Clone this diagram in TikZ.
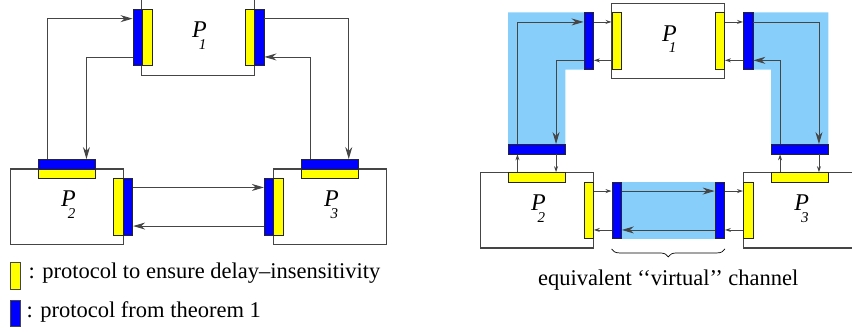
\documentclass[tikz,border=0pt]{standalone}
\usepackage{fontspec}
\setmainfont{Liberation Serif}
\usepackage{xcolor}
\usepackage{tikz}
\usetikzlibrary{positioning, arrows.meta, decorations.pathreplacing, backgrounds}
\definecolor{protyellow}{HTML}{FFFF00}
\definecolor{protblue}{HTML}{0000FF}
\definecolor{chanblue}{HTML}{87CEFA}
\definecolor{linegray}{HTML}{454545}
\newcommand{\procname}[1]{\fontsize{24}{24}\selectfont\itshape P\kern-8pt\raisebox{-12pt}{\fontsize{15}{15}\selectfont #1}}

\tikzset{
  procbox/.style={draw=linegray, line width=1.1pt, inner sep=0pt,
                  minimum width=113pt, minimum height=75.4pt},
  ybar/.style={fill=protyellow, draw=black!85, line width=0.8pt, inner sep=0pt},
  bbar/.style={fill=protblue, draw=black!85, line width=0.8pt, inner sep=0pt},
  upright/.style={minimum width=9.5pt, minimum height=56.5pt},
  flat/.style={minimum width=56.5pt, minimum height=9.5pt},
  wire/.style={draw=linegray, line width=0.9pt},
  bigtip/.style={wire, -{Stealth[length=12pt, width=7pt]}},
  smalltip/.style={wire, -{Stealth[length=6pt, width=4pt]}},
  plabel/.style={anchor=base west, xshift=-6pt, inner sep=0pt},
  keytext/.style={anchor=base west, inner sep=0pt, font=\fontsize{22.5}{27}\selectfont},
}

\begin{document}
\begin{tikzpicture}[x=1pt, y=-1pt]
  \useasboundingbox (0,0) rectangle (852,332);

  % left: the three processes with their protocols
  \node[procbox] (p1) at (198,37.5) {};
  \node[procbox] (p2) at (67,206.7) {};
  \node[procbox] (p3) at (329.8,206.7) {};
  \node[plabel] at (p1.center) {\procname{1}};
  \node[plabel] at (p2.center) {\procname{2}};
  \node[plabel] at (p3.center) {\procname{3}};

  \node[bbar, upright] (b1l) at (137.7,37.3) {};
  \node[ybar, upright] (y1l) at (147.2,37.3) {};
  \node[ybar, upright] (y1r) at (249.8,37.3) {};
  \node[bbar, upright] (b1r) at (259.3,37.3) {};
  \node[bbar, flat] (b2t) at (66.8,164.2) {};
  \node[ybar, flat] (y2t) at (66.8,173.7) {};
  \node[ybar, upright] (y2r) at (118.5,206.7) {};
  \node[bbar, upright] (b2r) at (128,206.7) {};
  \node[bbar, flat] (b3t) at (329.8,164.2) {};
  \node[ybar, flat] (y3t) at (329.8,173.7) {};
  \node[bbar, upright] (b3l) at (269,206.7) {};
  \node[ybar, upright] (y3l) at (278.3,206.7) {};

  \draw[bigtip] ([xshift=9pt]b2t.north west) |- ([yshift=-10pt]b1l.north west);
  \draw[bigtip] ([yshift=9pt]b1l.south west) -| ([xshift=-9pt]b2t.north east);
  \draw[bigtip] ([yshift=-10pt]b1r.north east) -| ([xshift=-9.7pt]b3t.north east);
  \draw[bigtip] ([xshift=9.3pt]b3t.north west) |- ([yshift=9pt]b1r.south east);
  \draw[bigtip] ([yshift=-9.4pt]b2r.north east) -- ([yshift=-9.4pt]b3l.north west);
  \draw[bigtip] ([yshift=9.3pt]b3l.south west) -- ([yshift=9.3pt]b2r.south east);

  % right: same ring, channels seen as virtual
  \node[procbox] (q1) at (668,41) {};
  \node[procbox] (q2) at (536.8,210.3) {};
  \node[procbox] (q3) at (800.2,210.3) {};
  \node[plabel] at (q1.center) {\procname{1}};
  \node[plabel] at (q2.center) {\procname{2}};
  \node[plabel] at (q3.center) {\procname{3}};

  \node[bbar, upright] (rb1l) at (588.7,41) {};
  \node[ybar, upright] (ry1l) at (616.7,41) {};
  \node[ybar, upright] (ry1r) at (719.8,41) {};
  \node[bbar, upright] (rb1r) at (748.2,41) {};
  \node[bbar, flat] (rb2t) at (536.7,149.2) {};
  \node[ybar, flat] (ry2t) at (536.7,177.3) {};
  \node[ybar, upright] (ry2r) at (588.7,210.3) {};
  \node[bbar, upright] (rb2r) at (616.7,210.3) {};
  \node[bbar, upright] (rb3l) at (719.8,210.3) {};
  \node[ybar, upright] (ry3l) at (748.2,210.3) {};
  \node[bbar, flat] (rb3t) at (799.7,149.2) {};
  \node[ybar, flat] (ry3t) at (799.7,177.3) {};

  \begin{scope}[on background layer]
    \fill[chanblue] (rb2t.north west) |- (rb1l.north) -- (rb1l.south) -| (rb2t.north east) -- cycle;
    \fill[chanblue] (rb3t.north east) |- (rb1r.north) -- (rb1r.south) -| (rb3t.north west) -- cycle;
    \fill[chanblue] (rb2r.north west) rectangle (rb3l.south east);
  \end{scope}

  \draw[smalltip] ([yshift=-9.6pt]rb1l.north east) -- ([yshift=-9.6pt]ry1l.north west);
  \draw[smalltip] ([yshift=9.3pt]ry1l.south west) -- ([yshift=9.3pt]rb1l.south east);
  \draw[smalltip] ([yshift=-9.6pt]ry1r.north east) -- ([yshift=-9.6pt]rb1r.north west);
  \draw[smalltip] ([yshift=9.3pt]rb1r.south west) -- ([yshift=9.3pt]ry1r.south east);
  \draw[bigtip] ([xshift=9.4pt]rb2t.north west) |- ([yshift=-9.6pt]rb1l.north west);
  \draw[bigtip] ([yshift=9.3pt]rb1l.south west) -| ([xshift=-9.3pt]rb2t.north east);
  \draw[bigtip] ([yshift=-9.6pt]rb1r.north east) -| ([xshift=-9.4pt]rb3t.north east);
  \draw[bigtip] ([xshift=9pt]rb3t.north west) |- ([yshift=9.3pt]rb1r.south east);
  \draw[smalltip] ([xshift=9.4pt]ry2t.north west) -- ([xshift=9.4pt]rb2t.south west);
  \draw[smalltip] ([xshift=-9.3pt]rb2t.south east) -- ([xshift=-9.3pt]ry2t.north east);
  \draw[smalltip] ([xshift=9pt]ry3t.north west) -- ([xshift=9pt]rb3t.south west);
  \draw[smalltip] ([xshift=-9.4pt]rb3t.south east) -- ([xshift=-9.4pt]ry3t.north east);
  \draw[smalltip] ([yshift=-9.4pt]ry2r.north east) -- ([yshift=-9.4pt]rb2r.north west);
  \draw[bigtip] ([yshift=-9.4pt]rb2r.north east) -- ([yshift=-9.4pt]rb3l.north west);
  \draw[smalltip] ([yshift=-9.4pt]rb3l.north east) -- ([yshift=-9.4pt]ry3l.north west);
  \draw[smalltip] ([yshift=9pt]ry3l.south west) -- ([yshift=9pt]rb3l.south east);
  \draw[bigtip] ([yshift=9pt]rb3l.south west) -- ([yshift=9pt]rb2r.south east);
  \draw[smalltip] ([yshift=9pt]rb2r.south west) -- ([yshift=9pt]ry2r.south east);

  \draw[line width=0.7pt, decorate, decoration={brace, amplitude=8pt}]
    ([yshift=-10pt]rb3l.south east) -- ([yshift=-10pt]rb2r.south west)
    node[keytext, midway, anchor=base, yshift=-36.7pt] (vlabel) {equivalent ‘‘virtual’’ channel};

  % key
  \node[ybar, draw=linegray, minimum width=9.3pt, minimum height=26.7pt] (keyy) at (15.3,276) {};
  \node[bbar, draw=linegray, minimum width=9.3pt, minimum height=26.7pt] (keyb) at (15.3,313.3) {};
  \node[keytext] (keyytext) at ([shift={(8pt,-2.3pt)}]keyy.east) {: protocol to ensure delay–insensitivity};
  \node[keytext] (keybtext) at ([shift={(6pt,-4pt)}]keyb.east) {: protocol from theorem 1};
\end{tikzpicture}
\end{document}
